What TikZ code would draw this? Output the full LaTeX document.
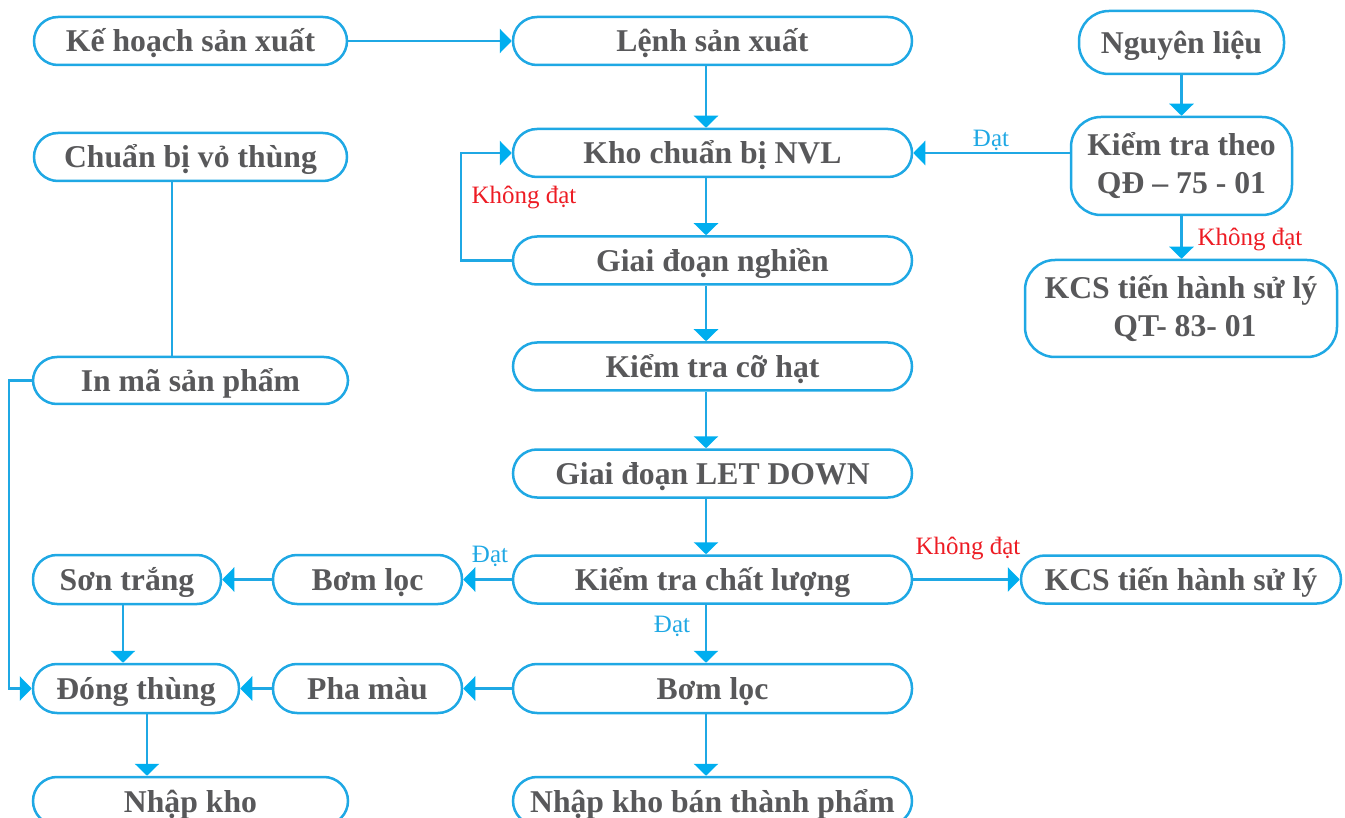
\documentclass[tikz,border=0pt]{standalone}
\usepackage{fontspec}
\setmainfont{Liberation Serif}
\usetikzlibrary{arrows.meta}
\definecolor{lineblue}{HTML}{1FA8E4}
\definecolor{tipblue}{HTML}{00AEEF}
\definecolor{textgray}{HTML}{58585A}
\definecolor{labred}{HTML}{ED1C24}
\tikzset{
  boxbase/.style={draw=lineblue, line width=2.5pt, rectangle, rounded corners=24pt,
    inner sep=0pt, text=textgray, font=\fontsize{31.7}{38}\selectfont\bfseries, align=center},
  box/.style={boxbase, text height=28pt, text depth=6pt},
  tallbox/.style={boxbase, rounded corners=30pt},
  conn/.style={draw=lineblue, line width=2.5pt},
  arr/.style={conn, -{Triangle[width=24pt,length=12pt,fill=tipblue,color=tipblue]}},
  lblblue/.style={text=lineblue, font=\fontsize{25}{30}\selectfont, inner sep=0pt},
  lblred/.style={text=labred, font=\fontsize{25}{30}\selectfont, inner sep=0pt}
}
\begin{document}
\begin{tikzpicture}[x=1pt,y=-1pt]
\useasboundingbox (0,0) rectangle (1345,818);
\clip (0,0) rectangle (1345,818);
% left column
\node[box, minimum width=313pt, minimum height=48pt] (kehoach) at (190.5,41) {Kế hoạch sản xuất};
\node[box, minimum width=313pt, minimum height=48pt] (chuanbi) at (190.5,157) {Chuẩn bị vỏ thùng};
\node[box, minimum width=315pt, minimum height=47pt] (inma) at (190.5,380.5) {In mã sản phẩm};
\node[box, minimum width=188pt, minimum height=49pt] (son) at (127,579.5) {Sơn trắng};
\node[box, minimum width=189pt, minimum height=49pt] (bomL) at (367.5,579.5) {Bơm lọc};
\node[box, minimum width=206pt, minimum height=49pt] (dong) at (136,688.5) {Đóng thùng};
\node[box, minimum width=189pt, minimum height=49pt] (pha) at (367.5,688.5) {Pha màu};
\node[box, minimum width=315pt, minimum height=48pt] (nhapkho) at (190.5,801) {Nhập kho};
% middle column
\node[box, minimum width=399pt, minimum height=48pt] (lenh) at (712.5,41) {Lệnh sản xuất};
\node[box, minimum width=399pt, minimum height=48pt] (kho) at (712.5,153) {Kho chuẩn bị NVL};
\node[box, minimum width=399pt, minimum height=48pt] (ngh) at (712.5,260.5) {Giai đoạn nghiền};
\node[box, minimum width=399pt, minimum height=48pt] (cohat) at (712.5,366.5) {Kiểm tra cỡ hạt};
\node[box, minimum width=399pt, minimum height=48pt] (letdown) at (712.5,473.5) {Giai đoạn LET DOWN};
\node[box, minimum width=399pt, minimum height=48pt] (ktcl) at (712.5,579.5) {Kiểm tra chất lượng};
\node[box, minimum width=399pt, minimum height=49pt] (bomM) at (712.5,688.5) {Bơm lọc};
\node[box, minimum width=399pt, minimum height=48pt] (nhapbtp) at (712.5,801) {Nhập kho bán thành phẩm};
% right column
\node[tallbox, text height=28pt, text depth=6pt, minimum width=205pt, minimum height=63pt] (nguyen) at (1181.5,42.5) {Nguyên liệu};
\node[tallbox, minimum width=221pt, minimum height=98pt] (ktt) at (1181.5,166) {Kiểm tra theo\\QĐ – 75 - 01};
\node[tallbox, minimum width=312pt, minimum height=97pt] (kcs1) at (1181,308.5) {KCS tiến hành sử lý\\\ QT- 83- 01};
\node[box, minimum width=320pt, minimum height=48pt] (kcs2) at (1181,579.5) {KCS tiến hành sử lý};
% connectors
\draw[arr] (kehoach.east) -- (lenh.west);
\draw[arr] ([xshift=-6.5pt]lenh.south) -- ([xshift=-6.5pt]kho.north);
\draw[arr] ([xshift=-6.5pt]kho.south) -- ([xshift=-6.5pt]ngh.north);
\draw[arr] ([xshift=-6.5pt]ngh.south) -- ([xshift=-6.5pt]cohat.north);
\draw[arr] ([xshift=-6.5pt]cohat.south) -- ([xshift=-6.5pt]letdown.north);
\draw[arr] ([xshift=-6.5pt]letdown.south) -- ([xshift=-6.5pt]ktcl.north);
\draw[arr] ([xshift=-6.5pt]ktcl.south) -- ([xshift=-6.5pt]bomM.north);
\draw[arr] ([xshift=-6.5pt]bomM.south) -- ([xshift=-6.5pt]nhapbtp.north);
\draw[arr] (ngh.west) -- ++(-51,0) |- (kho.west);
\draw[arr] (nguyen.south) -- (nguyen.south |- ktt.north);
\draw[arr] (ktt.west |- kho.east) -- (kho.east);
\draw[arr] (ktt.south) -- (ktt.south |- kcs1.north);
\draw[conn] ([xshift=-18.5pt]chuanbi.south) -- ([xshift=-18.5pt]inma.north);
\draw[arr] (inma.west) -- ++(-23,0) |- (dong.west);
\draw[arr] (ktcl.west) -- (bomL.east);
\draw[arr] (ktcl.east) -- (kcs2.west);
\draw[arr] (bomL.west) -- (son.east);
\draw[arr] ([xshift=-4pt]son.south) -- ([xshift=-13pt]dong.north);
\draw[arr] (bomM.west) -- (pha.east);
\draw[arr] (pha.west) -- (dong.east);
\draw[arr] ([xshift=11pt]dong.south) -- ([xshift=-43.5pt]nhapkho.north);
% labels
\node[lblblue] (l1) at (991,140) {Đạt};
\node[lblred] (l2) at (1250,240) {Không đạt};
\node[lblred] (l3) at (524,198) {Không đạt};
\node[lblblue] (l4) at (490,556) {Đạt};
\node[lblred] (l5) at (968,548) {Không đạt};
\node[lblblue] (l6) at (672,626) {Đạt};
\end{tikzpicture}
\end{document}
